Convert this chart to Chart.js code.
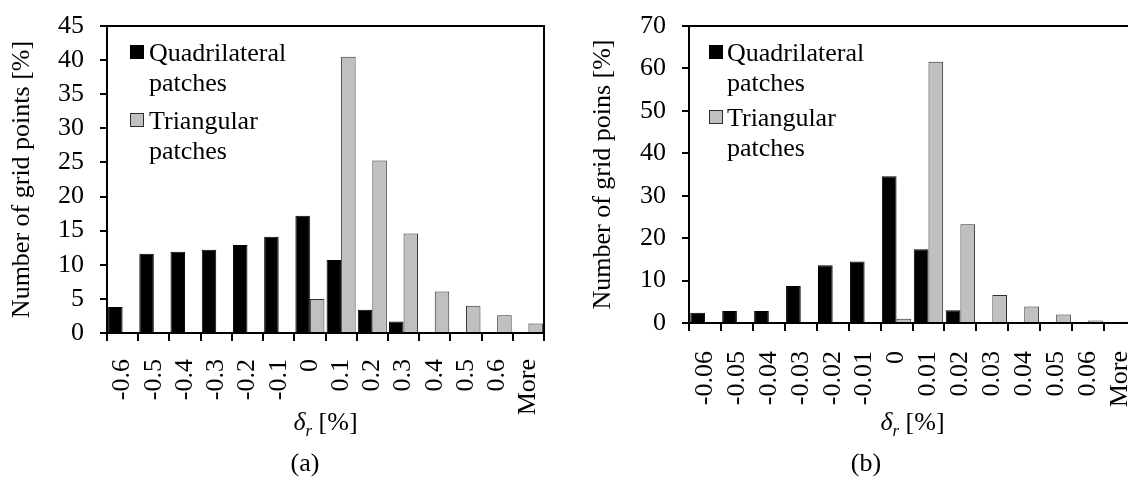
<!DOCTYPE html>
<html>
<head>
<meta charset="utf-8">
<script src="https://cdn.jsdelivr.net/npm/chart.js@4.4.1/dist/chart.umd.min.js"></script>
<style>
  html, body { margin: 0; padding: 0; background: #fff; overflow: hidden; width: 1128px; height: 479px; }
  .panel { position: absolute; top: 0; height: 479px; }
  #wrapA { left: 0; width: 560px; }
  #wrapB { left: 560px; width: 600px; }
  canvas { display: block; }
</style>
</head>
<body>
<div class="panel" id="wrapA"><canvas id="chartA" width="560" height="479"></canvas></div>
<div class="panel" id="wrapB"><canvas id="chartB" width="600" height="479"></canvas></div>
<script>
// Histogram bins of the relative deviation delta_r [%]
const binsA = ['-0.6', '-0.5', '-0.4', '-0.3', '-0.2', '-0.1', '0', '0.1', '0.2', '0.3', '0.4', '0.5', '0.6', 'More'];
const quadA = [3.8, 11.6, 11.9, 12.2, 12.9, 14.1, 17.2, 10.7, 3.4, 1.7, 0.1, 0, 0, 0];
const triA  = [0, 0, 0, 0, 0, 0, 5.0, 40.5, 25.3, 14.6, 6.1, 4.0, 2.6, 1.4];

const binsB = ['-0.06', '-0.05', '-0.04', '-0.03', '-0.02', '-0.01', '0', '0.01', '0.02', '0.03', '0.04', '0.05', '0.06', 'More'];
const quadB = [2.4, 2.8, 2.8, 8.7, 13.6, 14.5, 34.6, 17.4, 3.0, 0, 0, 0, 0, 0];
const triB  = [0, 0, 0, 0, 0, 0, 1.0, 61.6, 23.3, 6.6, 3.9, 2.0, 0.6, 0.3];

const seriesNames = ['Quadrilateral patches', 'Triangular patches'];
const yTitleA = 'Number of grid points [%]';
const yTitleB = 'Number of grid poins [%]';
const captionA = '(a)';
const captionB = '(b)';

const FONT = "'Liberation Serif', 'Times New Roman', serif";
Chart.defaults.color = '#000';
Chart.defaults.font.family = FONT;
Chart.defaults.font.size = 26;

// Frame, in-plot legend, x-axis title (delta with subscript r) and panel caption
function panelDecor(opt) {
  return {
    id: 'panelDecor',
    afterDraw(chart) {
      const ctx = chart.ctx;
      const a = chart.chartArea;
      ctx.save();
      // top and right edges of the plot frame
      ctx.strokeStyle = '#000';
      ctx.lineWidth = 2;
      ctx.beginPath();
      ctx.moveTo(a.left, a.top);
      ctx.lineTo(a.right, a.top);
      ctx.lineTo(a.right, a.bottom);
      ctx.stroke();

      // legend inside the plot
      ctx.textAlign = 'left';
      ctx.textBaseline = 'alphabetic';
      ctx.font = '26px ' + FONT;
      chart.data.datasets.forEach((ds, i) => {
        const base = a.top + opt.legendBaselines[i];
        const bx = a.left + opt.legendBoxX;
        ctx.fillStyle = ds.backgroundColor;
        ctx.fillRect(bx, base - 16, 14, 14);
        ctx.strokeStyle = ds.borderColor;
        ctx.lineWidth = 1;
        ctx.strokeRect(bx + 0.5, base - 15.5, 13, 13);
        ctx.fillStyle = '#000';
        ds.label.split(' ').forEach((line, k) => {
          ctx.fillText(line, a.left + opt.legendTextX, base + k * 30);
        });
      });

      // x-axis title: italic delta with italic subscript r, then " [%]"
      const fMain = 'italic 26px ' + FONT;
      const fSub = 'italic 17px ' + FONT;
      const fRest = '26px ' + FONT;
      ctx.font = fMain; const w1 = ctx.measureText('\u03b4').width;
      ctx.font = fSub;  const w2 = ctx.measureText('r').width;
      ctx.font = fRest; const w3 = ctx.measureText(' [%]').width;
      let x = (a.left + a.right) / 2 - (w1 + w2 + w3) / 2;
      const yb = opt.xTitleBaseline;
      ctx.font = fMain; ctx.fillText('\u03b4', x, yb); x += w1;
      ctx.font = fSub;  ctx.fillText('r', x, yb + 6); x += w2;
      ctx.font = fRest; ctx.fillText(' [%]', x, yb);

      // panel caption
      ctx.textAlign = 'center';
      ctx.font = '26px ' + FONT;
      ctx.fillText(opt.caption, opt.captionX, opt.captionBaseline);
      ctx.restore();
    }
  };
}

function makeChart(id, bins, quad, tri, yMax, yStep, yTitle, layout, decor) {
  return new Chart(document.getElementById(id), {
    type: 'bar',
    data: {
      labels: bins,
      datasets: [
        { label: seriesNames[0], data: quad, backgroundColor: '#000000', borderColor: '#000000', borderWidth: 1,
          categoryPercentage: layout.catPct, barPercentage: 1.0 },
        { label: seriesNames[1], data: tri, backgroundColor: '#c0c0c0', borderColor: '#2e2e2e', borderWidth: 1,
          categoryPercentage: layout.catPct, barPercentage: 1.0 }
      ]
    },
    options: {
      responsive: false,
      animation: false,
      devicePixelRatio: 1,
      layout: { padding: { top: layout.top, left: 0, right: layout.right, bottom: 0 } },
      plugins: { legend: { display: false }, tooltip: { enabled: false } },
      scales: {
        x: {
          grid: { offset: true, drawOnChartArea: false, drawTicks: true, tickLength: 8, color: '#000', lineWidth: 2 },
          border: { display: true, color: '#000', width: 2 },
          ticks: { autoSkip: false, minRotation: 90, maxRotation: 90, padding: layout.xPad, color: '#000', font: { size: 26 } },
          afterFit(scale) { scale.height = layout.xHeight; scale.paddingLeft = 0; scale.paddingRight = 0; }
        },
        y: {
          min: 0, max: yMax,
          grid: { drawOnChartArea: false, drawTicks: true, tickLength: 7, color: '#000', lineWidth: 2 },
          border: { display: true, color: '#000', width: 2 },
          ticks: { stepSize: yStep, autoSkip: false, padding: 16, color: '#000', font: { size: 26 } },
          title: { display: true, text: yTitle, color: '#000', font: { size: 26 }, padding: { top: layout.yTitlePad, bottom: 0 } },
          afterFit(scale) { scale.width = layout.yWidth; scale.paddingTop = 0; scale.paddingBottom = 0; }
        }
      }
    },
    plugins: [panelDecor(decor)]
  });
}

makeChart('chartA', binsA, quadA, triA, 45, 5, yTitleA,
  { top: 26, right: 16, xHeight: 146, xPad: 18, yWidth: 107, yTitlePad: 7, catPct: 0.93 },
  { legendBoxX: 23, legendTextX: 42, legendBaselines: [35, 103], xTitleBaseline: 430,
    caption: captionA, captionX: 305, captionBaseline: 471 });

makeChart('chartB', binsB, quadB, triB, 70, 10, yTitleB,
  { top: 26, right: 24, xHeight: 156, xPad: 20, yWidth: 129, yTitlePad: 28, catPct: 0.92 },
  { legendBoxX: 20, legendTextX: 38, legendBaselines: [35, 100], xTitleBaseline: 430,
    caption: captionB, captionX: 306, captionBaseline: 471 });
</script>
</body>
</html>
